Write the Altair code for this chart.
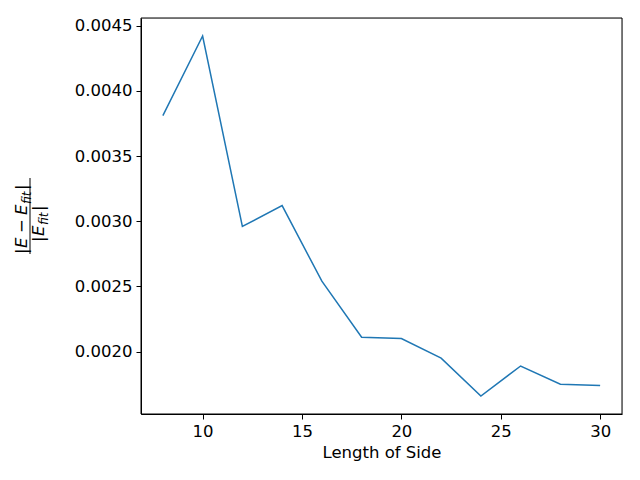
import altair as alt
import pandas as pd

side = [8, 10, 12, 14, 16, 18, 20, 22, 24, 26, 28, 30]
rel_err = [0.00381, 0.00442, 0.00296, 0.00312, 0.00254, 0.00211, 0.00210,
           0.00195, 0.00166, 0.00189, 0.00175, 0.00174]
x_ticks = [10, 15, 20, 25, 30]
y_ticks = [0.0020, 0.0025, 0.0030, 0.0035, 0.0040, 0.0045]

df = pd.DataFrame({"side": side, "err": rel_err})
FONT = "DejaVu Sans"
W, H = 481, 396

line = alt.Chart(df).mark_line(color="#1f77b4", strokeWidth=1.5).encode(
    x=alt.X("side:Q", scale=alt.Scale(domain=[6.9, 31.1], nice=False, zero=False),
            axis=alt.Axis(values=x_ticks, title="Length of Side", grid=False,
                          tickSize=5, labelPadding=4, titlePadding=5,
                          labelFontSize=16.5, titleFontSize=16.5, titleFontWeight="normal",
                          labelFont=FONT, titleFont=FONT, labelColor="black",
                          titleColor="black", tickColor="black", domainColor="black")),
    y=alt.Y("err:Q", scale=alt.Scale(domain=[0.001522, 0.004558], nice=False, zero=False),
            axis=alt.Axis(values=y_ticks, format=".4f", title=None, grid=False,
                          tickSize=5, labelPadding=4, labelFontSize=16.5,
                          labelFont=FONT, labelColor="black", tickColor="black",
                          domainColor="black")),
)

one = alt.Data(values=[{"a": 1}])

def seg(text, x, y, size=16.5, italic=False):
    return alt.Chart(one).mark_text(
        text=text, angle=270, align="left", baseline="middle", font=FONT,
        fontSize=size, fontStyle="italic" if italic else "normal", color="black"
    ).encode(x=alt.value(x), y=alt.value(y))

# numerator |E - E_fit|, reading upward
nx = -119
layers = [
    seg("|", nx, 236),
    seg("E", nx, 230, italic=True),
    seg("−", nx, 215),
    seg("E", nx, 197, italic=True),
    seg("fit", nx + 5, 186, size=12, italic=True),
    seg("|", nx, 172),
]
# denominator |E_fit|
dx_ = -102
layers += [
    seg("|", dx_, 224),
    seg("E", dx_, 218, italic=True),
    seg("fit", dx_ + 5, 207, size=12, italic=True),
    seg("|", dx_, 193),
]
frac = alt.Chart(one).mark_rule(color="black", strokeWidth=1).encode(
    x=alt.value(-111), y=alt.value(160), y2=alt.value(236)
)
frame = alt.Chart(one).mark_rect(filled=False, stroke="black", strokeWidth=1).encode(
    x=alt.value(0), x2=alt.value(W), y=alt.value(0), y2=alt.value(H)
)

chart = alt.layer(line, frame, frac, *layers).properties(
    width=W, height=H,
    autosize=alt.AutoSizeParams(type="none"),
    padding={"left": 133, "top": 10, "right": 10, "bottom": 58},
).configure_view(stroke="black", strokeWidth=1).configure(background="white")

chart.save("out.html", embed_options={"renderer": "svg", "actions": False})
